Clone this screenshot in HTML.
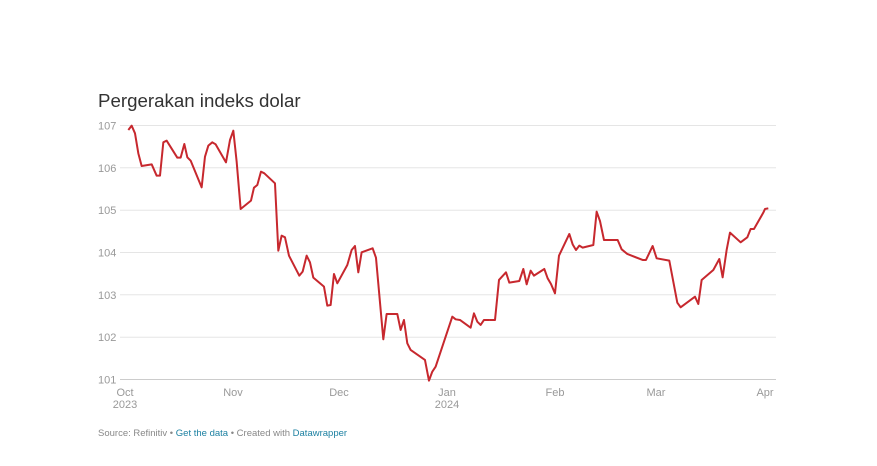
<!DOCTYPE html>
<html><head><meta charset="utf-8"><style>
body{margin:0;background:#fff;width:877px;height:461px;overflow:hidden;font-family:"Liberation Sans",Arial,sans-serif}
</style></head><body>
<svg width="877" height="461" xmlns="http://www.w3.org/2000/svg" font-family="Liberation Sans, Arial, sans-serif">
<text x="98" y="107" font-size="18.7" fill="#333">Pergerakan indeks dolar</text>
<g stroke="#e5e5e5" stroke-width="1">
<line x1="120" x2="776" y1="125.5" y2="125.5"/>
<line x1="120" x2="776" y1="167.8" y2="167.8"/>
<line x1="120" x2="776" y1="210.2" y2="210.2"/>
<line x1="120" x2="776" y1="252.5" y2="252.5"/>
<line x1="120" x2="776" y1="294.8" y2="294.8"/>
<line x1="120" x2="776" y1="337.2" y2="337.2"/>
</g>
<line x1="120" x2="776" y1="379.5" y2="379.5" stroke="#ccc"/>
<g font-size="11" fill="#999">
<text x="98" y="129.5">107</text>
<text x="98" y="171.8">106</text>
<text x="98" y="214.2">105</text>
<text x="98" y="256.5">104</text>
<text x="98" y="298.8">103</text>
<text x="98" y="341.2">102</text>
<text x="98" y="383.5">101</text>
</g>
<g font-size="11" fill="#999" text-anchor="middle">
<text x="125" y="396">Oct</text><text x="125" y="408">2023</text>
<text x="233" y="396">Nov</text>
<text x="339" y="396">Dec</text>
<text x="447" y="396">Jan</text><text x="447" y="408">2024</text>
<text x="555" y="396">Feb</text>
<text x="656" y="396">Mar</text>
<text x="765" y="396">Apr</text>
</g>
<g fill="none" stroke="#c7282e" stroke-width="2" stroke-linejoin="round">
<polyline transform="translate(90,110) scale(0.3333)" vector-effect="non-scaling-stroke" points="115,60 125,47 135,70 145,130 155,168 185,163 200,197 210,197 220,97 230,92 262,143 272,143 283,102 292,142 302,152 335,232 345,140 355,107 367,97 377,103 408,157 420,90 430,62 440,155 452,297 483,272 492,233 502,225 513,185 523,190 555,220 565,422 575,377 585,382 597,437 628,497 638,485 650,437 660,457 670,503 702,530 712,587 722,585 732,492 742,520 772,465 785,420 795,408 805,487 815,427 848,415 858,443 880,688 890,612 922,612 932,660 942,630 952,700 962,720 1005,750 1017,812 1027,785 1037,770 1087,620 1097,628 1110,630 1142,653 1152,610 1162,635 1172,645 1182,630 1200,630"/>
<polyline transform="translate(430,110) scale(0.3333)" vector-effect="non-scaling-stroke" points="180,630 195,630 207,510 228,487 238,518 268,513 280,477 290,523 302,482 312,497 343,477 353,505 363,522 375,550 387,437 418,372 428,403 438,420 448,407 458,413 490,405 500,305 510,333 522,390 563,390 575,418 592,432 638,450 648,450 668,408 680,445 718,452 742,578 752,592 795,560 805,582 815,510 850,480 868,447 878,502 890,420 900,368 932,397 952,382 962,357 972,357 1000,308 1005,297 1015,295"/>
</g>
<text x="98" y="436" font-size="9.5" fill="#888">Source: Refinitiv • <tspan fill="#1d81a2">Get the data</tspan> • Created with <tspan fill="#1d81a2">Datawrapper</tspan></text>
</svg>
</body></html>
